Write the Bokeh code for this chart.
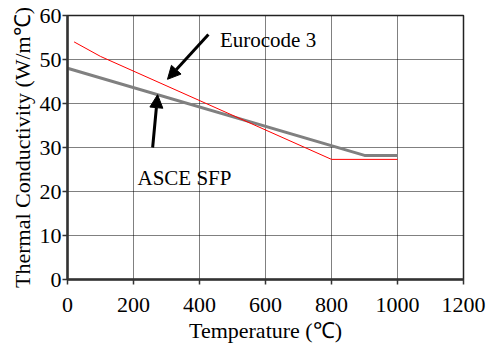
from bokeh.plotting import figure
from bokeh.models import Range1d, FixedTicker, Arrow, NormalHead, Label
from bokeh.embed import file_html
from bokeh.resources import INLINE

# Data
euro_temp = [20, 100, 800, 1000]
euro_k = [54.0, 50.7, 27.3, 27.3]
asce_temp = [0, 900, 1000]
asce_k = [48.0, 28.2, 28.2]
x_ticks = [0, 200, 400, 600, 800, 1000, 1200]
y_ticks = [0, 10, 20, 30, 40, 50, 60]

FONT = "Liberation Serif"

p = figure(width=491, height=349, output_backend="svg", toolbar_location=None,
           x_range=Range1d(0, 1200), y_range=Range1d(0, 60),
           min_border_left=67, min_border_right=28, min_border_top=15, min_border_bottom=70)
p.background_fill_color = "white"
p.border_fill_color = "white"
p.outline_line_color = "#222222"
p.outline_line_width = 1.5

p.xaxis.ticker = FixedTicker(ticks=x_ticks)
p.yaxis.ticker = FixedTicker(ticks=y_ticks)
for ax in (p.xaxis, p.yaxis):
    ax.axis_line_color = "#333333"
    ax.axis_line_width = 2.5
    ax.major_tick_line_color = "#333333"
    ax.major_tick_line_width = 1.5
    ax.major_tick_out = 5
    ax.major_tick_in = 0
    ax.minor_tick_line_color = None
    ax.major_label_text_font = FONT
    ax.major_label_text_font_size = "22px"
    ax.major_label_text_color = "black"
    ax.axis_label_text_font = FONT
    ax.axis_label_text_font_size = "22px"
    ax.axis_label_text_font_style = "normal"
    ax.axis_label_text_color = "black"
p.xaxis.axis_label = "Temperature (℃)"
p.yaxis.axis_label = "Thermal Conductivity (W/m℃)"
p.xaxis.major_label_standoff = 13
p.yaxis.major_label_standoff = 1
p.xaxis.axis_label_standoff = 3
p.yaxis.axis_label_standoff = 2

for g in (p.xgrid, p.ygrid):
    g.grid_line_color = "black"
    g.grid_line_dash = "1 1"
    g.grid_line_width = 1

p.line(asce_temp, asce_k, line_color="#808080", line_width=3)
p.line(euro_temp, euro_k, line_color="red", line_width=1)

p.add_layout(Arrow(end=NormalHead(size=13, fill_color="black", line_color="black"),
                   x_start=427, y_start=55.7, x_end=303, y_end=45.5,
                   line_color="black", line_width=3))
p.add_layout(Arrow(end=NormalHead(size=13, fill_color="black", line_color="black"),
                   x_start=258, y_start=30, x_end=273, y_end=42,
                   line_color="black", line_width=3))

p.add_layout(Label(x=462, y=54.5, text="Eurocode 3", text_font=FONT,
                   text_font_size="21px", text_baseline="middle", text_color="black"))
p.add_layout(Label(x=212, y=23.0, text="ASCE SFP", text_font=FONT,
                   text_font_size="21px", text_baseline="middle", text_color="black"))

open("out.html", "w").write(file_html(p, INLINE))
